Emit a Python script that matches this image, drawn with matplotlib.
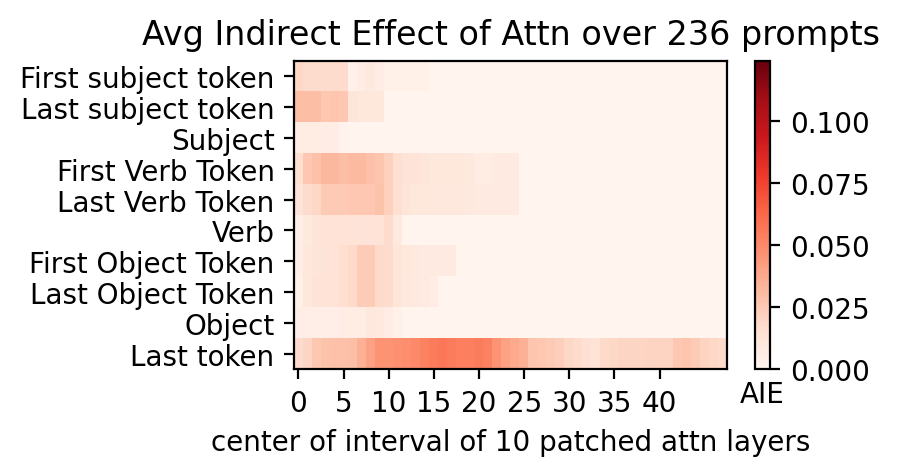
import matplotlib

matplotlib.use("Agg")
import matplotlib.pyplot as plt
import numpy as np

row_labels = [
    "First subject token",
    "Last subject token",
    "Subject",
    "First Verb Token",
    "Last Verb Token",
    "Verb",
    "First Object Token",
    "Last Object Token",
    "Object",
    "Last token",
]

# average indirect effect per token row, one value per layer window centre (0..47)
first_subject = [
    0.019, 0.017, 0.017, 0.017, 0.017, 0.017, 0.003, 0.006, 0.009, 0.006, 0.004, 0.004,
    0.004, 0.004, 0.004, 0.001, 0.001, 0.001, 0.001, 0.001, 0.001, 0.001, 0.001, 0.001,
    0.001, 0.001, 0.001, 0.001, 0.001, 0.001, 0.001, 0.001, 0.001, 0.001, 0.001, 0.001,
    0.001, 0.001, 0.001, 0.001, 0.001, 0.001, 0.001, 0.001, 0.001, 0.001, 0.001, 0.001,
]
last_subject = [
    0.030, 0.030, 0.030, 0.026, 0.027, 0.026, 0.012, 0.011, 0.011, 0.011, 0.001, 0.001,
    0.001, 0.001, 0.001, 0.001, 0.001, 0.001, 0.001, 0.001, 0.001, 0.001, 0.001, 0.001,
    0.001, 0.001, 0.001, 0.001, 0.001, 0.001, 0.001, 0.001, 0.001, 0.001, 0.001, 0.001,
    0.001, 0.001, 0.001, 0.001, 0.001, 0.001, 0.001, 0.001, 0.001, 0.001, 0.001, 0.001,
]
subject = [
    0.007, 0.007, 0.007, 0.006, 0.006, 0.002, 0.001, 0.001, 0.001, 0.001, 0.001, 0.001,
    0.001, 0.001, 0.001, 0.001, 0.001, 0.001, 0.001, 0.001, 0.001, 0.001, 0.001, 0.001,
    0.001, 0.001, 0.001, 0.001, 0.001, 0.001, 0.001, 0.001, 0.001, 0.001, 0.001, 0.001,
    0.001, 0.001, 0.001, 0.001, 0.001, 0.001, 0.001, 0.001, 0.001, 0.001, 0.001, 0.001,
]
first_verb = [
    0.016, 0.026, 0.029, 0.032, 0.032, 0.030, 0.031, 0.031, 0.029, 0.027, 0.022, 0.016,
    0.013, 0.013, 0.012, 0.011, 0.011, 0.011, 0.011, 0.009, 0.007, 0.007, 0.008, 0.008,
    0.008, 0.001, 0.001, 0.001, 0.001, 0.001, 0.001, 0.001, 0.001, 0.001, 0.001, 0.001,
    0.001, 0.001, 0.001, 0.001, 0.001, 0.001, 0.001, 0.001, 0.001, 0.001, 0.001, 0.001,
]
last_verb = [
    0.013, 0.017, 0.019, 0.025, 0.025, 0.025, 0.026, 0.026, 0.026, 0.028, 0.022, 0.016,
    0.012, 0.011, 0.011, 0.011, 0.010, 0.010, 0.010, 0.009, 0.008, 0.008, 0.008, 0.008,
    0.008, 0.001, 0.001, 0.001, 0.001, 0.001, 0.001, 0.001, 0.001, 0.001, 0.001, 0.001,
    0.001, 0.001, 0.001, 0.001, 0.001, 0.001, 0.001, 0.001, 0.001, 0.001, 0.001, 0.001,
]
verb = [
    0.005, 0.009, 0.012, 0.014, 0.014, 0.014, 0.014, 0.013, 0.013, 0.014, 0.017, 0.009,
    0.001, 0.001, 0.001, 0.001, 0.001, 0.001, 0.001, 0.001, 0.001, 0.001, 0.001, 0.001,
    0.001, 0.001, 0.001, 0.001, 0.001, 0.001, 0.001, 0.001, 0.001, 0.001, 0.001, 0.001,
    0.001, 0.001, 0.001, 0.001, 0.001, 0.001, 0.001, 0.001, 0.001, 0.001, 0.001, 0.001,
]
first_object = [
    0.005, 0.010, 0.012, 0.013, 0.014, 0.016, 0.018, 0.024, 0.024, 0.018, 0.017, 0.012,
    0.011, 0.009, 0.008, 0.008, 0.008, 0.008, 0.001, 0.001, 0.001, 0.001, 0.001, 0.001,
    0.001, 0.001, 0.001, 0.001, 0.001, 0.001, 0.001, 0.001, 0.001, 0.001, 0.001, 0.001,
    0.001, 0.001, 0.001, 0.001, 0.001, 0.001, 0.001, 0.001, 0.001, 0.001, 0.001, 0.001,
]
last_object = [
    0.004, 0.011, 0.013, 0.014, 0.014, 0.016, 0.018, 0.024, 0.024, 0.018, 0.017, 0.012,
    0.010, 0.009, 0.008, 0.007, 0.001, 0.001, 0.001, 0.001, 0.001, 0.001, 0.001, 0.001,
    0.001, 0.001, 0.001, 0.001, 0.001, 0.001, 0.001, 0.001, 0.001, 0.001, 0.001, 0.001,
    0.001, 0.001, 0.001, 0.001, 0.001, 0.001, 0.001, 0.001, 0.001, 0.001, 0.001, 0.001,
]
obj = [
    0.005, 0.005, 0.005, 0.005, 0.005, 0.006, 0.007, 0.007, 0.010, 0.009, 0.006, 0.004,
    0.001, 0.001, 0.001, 0.001, 0.001, 0.001, 0.001, 0.001, 0.001, 0.001, 0.001, 0.001,
    0.001, 0.001, 0.001, 0.001, 0.001, 0.001, 0.001, 0.001, 0.001, 0.001, 0.001, 0.001,
    0.001, 0.001, 0.001, 0.001, 0.001, 0.001, 0.001, 0.001, 0.001, 0.001, 0.001, 0.001,
]
last_token = [
    0.017, 0.020, 0.026, 0.028, 0.029, 0.029, 0.030, 0.035, 0.041, 0.046, 0.046, 0.047,
    0.048, 0.050, 0.053, 0.055, 0.057, 0.055, 0.054, 0.054, 0.055, 0.053, 0.046, 0.041,
    0.038, 0.035, 0.027, 0.026, 0.025, 0.023, 0.019, 0.017, 0.015, 0.014, 0.018, 0.019,
    0.020, 0.020, 0.020, 0.021, 0.021, 0.021, 0.026, 0.027, 0.025, 0.021, 0.019, 0.018,
]

vmax = 0.124
n_prompts = 236
window = 10

scores = np.array([
    first_subject, last_subject, subject, first_verb, last_verb,
    verb, first_object, last_object, obj, last_token,
])
n_layers = scores.shape[1]

fig = plt.figure(figsize=(4.495, 2.385), dpi=200)
ax = fig.add_axes([0.327, 0.224, 0.482, 0.646])
cax = fig.add_axes([0.8395, 0.224, 0.0175, 0.646])

h = ax.pcolor(scores, cmap="Reds", vmin=0.0, vmax=vmax)
ax.invert_yaxis()
ax.set_yticks([0.5 + i for i in range(len(row_labels))])
ax.set_yticklabels(row_labels)
ax.set_xticks([0.5 + i for i in range(0, n_layers - 6, 5)])
ax.set_xticklabels(list(range(0, n_layers - 6, 5)))
ax.set_title(f"Avg Indirect Effect of Attn over {n_prompts} prompts")
ax.set_xlabel(f"center of interval of {window} patched attn layers")

cb = fig.colorbar(h, cax=cax)
cb.set_ticks([0.0, 0.025, 0.05, 0.075, 0.1])
cb.ax.set_title("AIE", y=-0.16, fontsize=10)

fig.savefig("out.png", dpi=200)
plt.close(fig)
